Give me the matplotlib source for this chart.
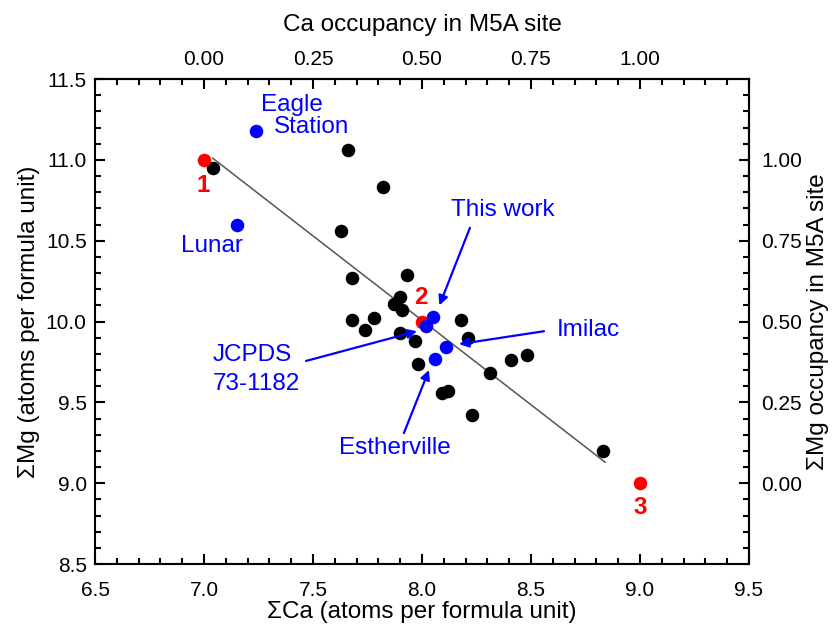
import numpy as np
import matplotlib
matplotlib.use("Agg")
import matplotlib.pyplot as plt
from matplotlib.ticker import MultipleLocator, FixedLocator

plt.rcParams['font.family'] = ['Liberation Sans', 'DejaVu Sans']

# literature apatite-group compositions (black)
ca_lit = [7.04, 7.66, 7.82, 7.63, 7.68, 7.93, 7.87, 7.90, 7.91, 7.68, 7.78,
          7.74, 7.90, 7.97, 7.98, 8.18, 8.21, 8.31, 8.41, 8.48, 8.09, 8.12,
          8.23, 8.83]
mg_lit = [10.95, 11.06, 10.83, 10.56, 10.27, 10.29, 10.11, 10.15, 10.07, 10.01,
          10.02, 9.95, 9.93, 9.88, 9.74, 10.01, 9.90, 9.68, 9.76, 9.79, 9.56,
          9.57, 9.42, 9.20]

# named samples (blue)
sample_names = ['Eagle Station', 'Lunar', 'This work', 'JCPDS 73-1182',
                'Imilac', 'Estherville']
ca_samples = [7.24, 7.15, 8.05, 8.02, 8.11, 8.06]
mg_samples = [11.18, 10.60, 10.03, 9.97, 9.84, 9.77]

# end-member / ideal compositions (red)
end_labels = ['1', '2', '3']
ca_end = [7.0, 8.0, 9.0]
mg_end = [11.0, 10.0, 9.0]

# regression line endpoints
fit_ca = [7.04, 8.84]
fit_mg = [11.01, 9.13]

fig = plt.figure(figsize=(8.32, 6.26), dpi=100)
ax = fig.add_axes([0.1142, 0.0990, 0.7860, 0.7748])

ax.plot(fit_ca, fit_mg, color='#555555', lw=1.1, zorder=2)
ax.scatter(ca_lit, mg_lit, s=95, color='black', zorder=3, linewidths=0)
ax.scatter(ca_samples, mg_samples, s=95, color='#0000ff', zorder=4, linewidths=0)
ax.scatter(ca_end, mg_end, s=95, color='#ff0000', zorder=3, linewidths=0)

ax.set_xlim(6.5, 9.5)
ax.set_ylim(8.5, 11.5)
ax.xaxis.set_major_locator(MultipleLocator(0.5))
ax.xaxis.set_minor_locator(MultipleLocator(0.1))
ax.yaxis.set_major_locator(MultipleLocator(0.5))
ax.yaxis.set_minor_locator(MultipleLocator(0.1))
ax.xaxis.set_major_formatter(lambda v, p: f'{v:.1f}')
ax.yaxis.set_major_formatter(lambda v, p: f'{v:.1f}')
ax.tick_params(which='both', direction='in', width=1.5, labelsize=15,
               top=False, right=False)
ax.tick_params(which='major', length=7)
ax.tick_params(which='minor', length=4)
ax.tick_params(axis='x', which='major', pad=12)
ax.tick_params(axis='y', which='major', pad=6)
for sp in ax.spines.values():
    sp.set_linewidth(1.5)

ax.set_xlabel('ΣCa (atoms per formula unit)', fontsize=17.5, labelpad=1)
ax.set_ylabel('ΣMg (atoms per formula unit)', fontsize=17.5, labelpad=4)

# occupancy axes
occ_ticks = np.arange(-0.25, 1.2501, 0.05)
top = ax.secondary_xaxis('top', functions=(lambda x: (x - 7) / 2,
                                           lambda o: 2 * o + 7))
right = ax.secondary_yaxis('right', functions=(lambda y: (y - 9) / 2,
                                               lambda o: 2 * o + 9))
for sec in (top, right):
    axis = sec.xaxis if sec is top else sec.yaxis
    axis.set_major_locator(FixedLocator([0, 0.25, 0.5, 0.75, 1.0]))
    axis.set_minor_locator(FixedLocator(occ_ticks))
    axis.set_major_formatter(lambda v, p: f'{v:.2f}')
    sec.tick_params(which='both', direction='in', width=1.5, labelsize=15)
    sec.tick_params(which='major', length=7)
    sec.tick_params(which='minor', length=4)
    for sp in sec.spines.values():
        sp.set_linewidth(1.5)
top.tick_params(which='major', pad=7)
right.tick_params(which='major', pad=9)
top.set_xlabel('Ca occupancy in M5A site', fontsize=17.5, labelpad=14)
right.set_ylabel('ΣMg occupancy in M5A site', fontsize=17.5, labelpad=3)

blue = '#0000ff'
red = '#ff0000'
tkw = dict(color=blue, fontsize=17.5, ha='center', va='center')
ax.text(7.404, 11.339, 'Eagle', **tkw)
ax.text(7.495, 11.203, 'Station', **tkw)
ax.text(7.037, 10.467, 'Lunar', **tkw)
ax.text(8.372, 10.69, 'This work', **tkw)
ax.text(8.761, 9.948, 'Imilac', **tkw)
ax.text(7.876, 9.218, 'Estherville', **tkw)
ax.text(7.041, 9.793, 'JCPDS', color=blue, fontsize=17.5, ha='left',
        va='center')
ax.text(7.041, 9.614, '73-1182', color=blue, fontsize=17.5, ha='left',
        va='center')

akw = dict(arrowstyle='-|>', color=blue, lw=1.6, mutation_scale=14,
           shrinkA=0, shrinkB=0)
ax.annotate('', xy=(8.08, 10.10), xytext=(8.22, 10.58), arrowprops=akw)
ax.annotate('', xy=(8.17, 9.86), xytext=(8.56, 9.94), arrowprops=akw)
ax.annotate('', xy=(7.977, 9.94), xytext=(7.468, 9.756), arrowprops=akw)
ax.annotate('', xy=(8.032, 9.70), xytext=(7.917, 9.31), arrowprops=akw)

label_pos = [(6.995, 10.84), (7.995, 10.15), (9.0, 8.85)]
for lab, (lx, ly) in zip(end_labels, label_pos):
    ax.text(lx, ly, lab, color=red, fontsize=17.5, fontweight='bold',
            ha='center', va='center')

fig.savefig('out.png', dpi=100)
